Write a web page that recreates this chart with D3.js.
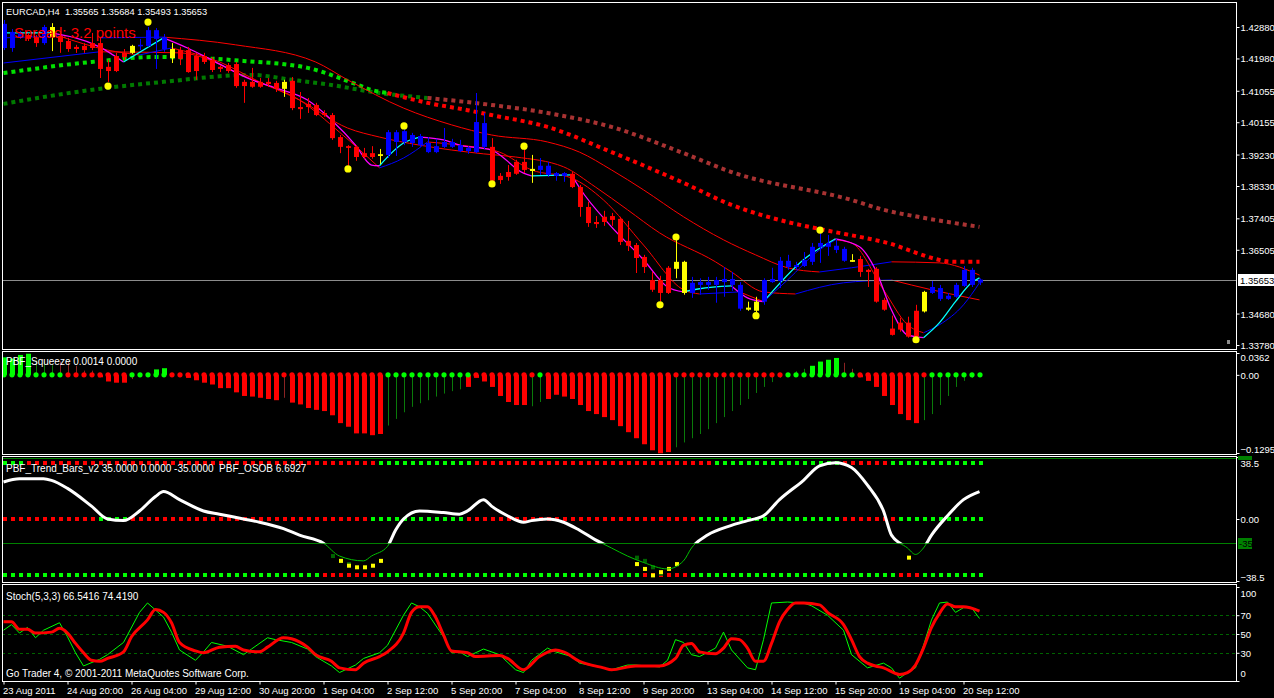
<!DOCTYPE html>
<html>
<head>
<meta charset="utf-8">
<script src="https://cdn.jsdelivr.net/npm/d3@7"></script>
<style>
  body { margin: 0; background: #000; }
  svg { display: block; }
  text { font-family: "Liberation Sans", Arial, sans-serif; }
</style>
</head>
<body>
<svg id="chart" width="1274" height="698"></svg>
<script>
// ---- candles (EURCAD H4) ----
const opens = [1.4228,1.4228,1.4259,1.4265,1.4259,1.4242,1.4288,1.4262,1.4248,1.4231,1.4234,1.4242,1.4242,1.4174,1.4205,1.4214,1.4234,1.4234,1.4234,1.4254,
  1.4225,1.4225,1.4222,1.4222,1.4205,1.4205,1.4194,1.4174,1.4179,1.4182,1.4131,1.4131,1.4131,1.4131,1.4128,1.4131,1.4134,1.4059,1.4068,1.4065,
  1.4042,1.4036,1.3973,1.3947,1.3945,1.3927,1.3927,1.3924,1.3922,1.3959,1.3959,1.3956,1.3950,1.3930,1.3930,1.3945,1.3945,1.3933,1.3933,1.3930,
  1.3945,1.3945,1.3862,1.3873,1.3902,1.3902,1.3882,1.3879,1.3865,1.3862,1.3862,1.3868,1.3830,1.3773,1.3730,1.3745,1.3747,1.3739,1.3676,1.3664,
  1.3630,1.3564,1.3564,1.3599,1.3616,1.3616,1.3527,1.3550,1.3550,1.3550,1.3558,1.3550,1.3482,1.3485,1.3502,1.3502,1.3558,1.3561,1.3601,1.3601,
  1.3604,1.3616,1.3659,1.3659,1.3650,1.3619,1.3621,1.3624,1.3593,1.3596,1.3507,1.3425,1.3442,1.3442,1.3476,1.3474,1.3527,1.3510,1.3510,1.3516,
  1.3547,1.3550,1.35565];
const highs = [1.4308,1.4282,1.4277,1.4271,1.4265,1.4294,1.4299,1.4271,1.4257,1.4237,1.4242,1.4271,1.4257,1.4194,1.4214,1.4225,1.4237,1.4254,1.4288,1.4285,
  1.4268,1.4242,1.4231,1.4231,1.4214,1.4214,1.4202,1.4179,1.4185,1.4188,1.4137,1.4171,1.4142,1.4142,1.4134,1.4137,1.4145,1.4102,1.4085,1.4071,
  1.4050,1.4042,1.3979,1.3950,1.3950,1.3942,1.3947,1.3939,1.3993,1.3993,1.3999,1.3985,1.3982,1.3973,1.3968,1.3999,1.3968,1.3965,1.3947,1.4099,
  1.4042,1.3970,1.3870,1.3893,1.3908,1.3942,1.3922,1.3913,1.3902,1.3873,1.3873,1.3873,1.3836,1.3788,1.3747,1.3762,1.3756,1.3745,1.3733,1.3670,
  1.3636,1.3587,1.3576,1.3604,1.3679,1.3619,1.3573,1.3569,1.3573,1.3573,1.3601,1.3587,1.3558,1.3502,1.3516,1.3569,1.3599,1.3630,1.3636,1.3616,
  1.3644,1.3670,1.3702,1.3693,1.3682,1.3659,1.3638,1.3633,1.3596,1.3601,1.3513,1.3462,1.3456,1.3459,1.3493,1.3533,1.3561,1.3550,1.3527,1.3556,
  1.3604,1.3599,1.35684];
const lows = [1.4222,1.4217,1.4254,1.4248,1.4231,1.4237,1.4219,1.4214,1.4217,1.4214,1.4214,1.4222,1.4142,1.4131,1.4159,1.4194,1.4211,1.4222,1.4231,1.4168,
  1.4217,1.4185,1.4179,1.4157,1.4137,1.4182,1.4159,1.4159,1.4157,1.4114,1.4071,1.4114,1.4114,1.4117,1.4102,1.4088,1.4050,1.4025,1.4042,1.4033,
  1.4031,1.3965,1.3927,1.3891,1.3905,1.3911,1.3911,1.3896,1.3913,1.3919,1.3950,1.3945,1.3945,1.3927,1.3927,1.3942,1.3942,1.3930,1.3925,1.3927,
  1.3939,1.3845,1.3839,1.3848,1.3865,1.3870,1.3842,1.3865,1.3859,1.3848,1.3845,1.3827,1.3745,1.3716,1.3713,1.3719,1.3719,1.3664,1.3647,1.3584,
  1.3584,1.3530,1.3502,1.3524,1.3569,1.3522,1.3513,1.3522,1.3536,1.3499,1.3516,1.3533,1.3476,1.3476,1.3471,1.3493,1.3556,1.3541,1.3593,1.3593,
  1.3601,1.3607,1.3613,1.3633,1.3641,1.3616,1.3616,1.3573,1.3544,1.3499,1.3476,1.3405,1.3416,1.3399,1.3399,1.3471,1.3524,1.3504,1.3507,1.3513,
  1.3544,1.3544,1.35493];
const closes = [1.4297,1.4274,1.4271,1.4254,1.4242,1.4288,1.4259,1.4245,1.4225,1.4225,1.4222,1.4228,1.4168,1.4162,1.4162,1.4202,1.4214,1.4237,1.4279,1.4279,
  1.4259,1.4199,1.4197,1.4159,1.4162,1.4188,1.4165,1.4168,1.4162,1.4119,1.4119,1.4117,1.4117,1.4125,1.4111,1.4111,1.4056,1.4053,1.4059,1.4036,
  1.4036,1.3970,1.3945,1.3942,1.3916,1.3916,1.3916,1.3919,1.3987,1.3987,1.3990,1.3979,1.3976,1.3956,1.3947,1.3959,1.3959,1.3950,1.3942,1.4016,
  1.4013,1.3848,1.3850,1.3859,1.3868,1.3879,1.3876,1.3891,1.3891,1.3870,1.3870,1.3830,1.3773,1.3727,1.3724,1.3730,1.3736,1.3673,1.3662,1.3627,
  1.3601,1.3536,1.3527,1.3527,1.3596,1.3527,1.3556,1.3558,1.3558,1.3564,1.3567,1.3567,1.3550,1.3479,1.3476,1.3564,1.3567,1.3619,1.3619,1.3607,
  1.3621,1.3659,1.3670,1.3670,1.3662,1.3653,1.3616,1.3587,1.3587,1.3502,1.3479,1.3407,1.3422,1.3402,1.3402,1.3530,1.3544,1.3541,1.3519,1.3550,
  1.3593,1.3593,1.35653];
// b = blue trend bar, r = red, y = yellow
const barColors = "bbbrrbyrrr" + "rrrrrrybbb" + "byrrrrrrrr" + "rrrrryrrrr" + "rrrrrrrybb" +
  "bbbbbbbbbb" + "brrrrrybbb" + "brrrrrrrrr" + "rrrryybbbb" + "bbbyybbbbb" +
  "bbbbbbyrrr" + "rrrrrybbbb" + "bbb";

const fractalIdx = [13, 18, 43, 50, 61, 65, 82, 84, 94, 102, 114];
const fractalPrice = [1.4119, 1.4302, 1.3882, 1.4005, 1.3839, 1.3947, 1.3493, 1.3687, 1.3462, 1.3707, 1.3393];

// moving averages, read at sample bars
const fastIdx = [0,6,12,15,20,23,26,31,34,38,41,44,46,47,50,52,55,57,61,65,66,71,72,76,80,83,85,87,91,93,95,100,104,107,109,111,113,115,117,119,121,122];
const fastMA = [1.4271,1.4271,1.4231,1.4188,1.4257,1.4228,1.4194,1.4137,1.4114,1.4079,1.4022,1.3950,1.3893,1.3891,1.3956,1.3973,1.3965,1.3950,1.3936,1.3870,1.3862,1.3865,1.3828,1.3716,1.3622,1.3544,1.3530,1.3539,1.3547,1.3513,1.3502,1.3622,1.3682,1.3659,1.3593,1.3478,1.3407,1.3399,1.3442,1.3502,1.3556,1.3570];
const midIdx = [0,7,13,17,21,27,32,37,42,47,50,53,57,62,66,71,75,80,85,87,92,95,98,102,104,106,110,113,115,117,120,122];
const midMA = [1.4257,1.4262,1.4222,1.4208,1.4228,1.4188,1.4131,1.4079,1.3987,1.3885,1.3913,1.3959,1.3950,1.3930,1.3879,1.3856,1.3793,1.3664,1.3536,1.3524,1.3530,1.3502,1.3564,1.3650,1.3679,1.3670,1.3536,1.3436,1.3413,1.3436,1.3493,1.3556];
const slow1Idx = [12,20,29,39,43,50,56,61,68,72,76,80,85,90,94,98,102,106,111,117,122];
const slow1 = [1.4257,1.4259,1.4237,1.4188,1.4137,1.4056,1.4008,1.3979,1.3959,1.3930,1.3879,1.3822,1.3745,1.3679,1.3636,1.3599,1.3587,1.3599,1.3616,1.3613,1.3578];
const slow2Idx = [0,12,22,31,37,43,47,52,60,64,70,74,78,82,89,91,95,99,105,111,116,122];
const slow2 = [1.4185,1.4217,1.4214,1.4139,1.4079,1.3999,1.3973,1.3950,1.3925,1.3916,1.3888,1.3830,1.3765,1.3699,1.3616,1.3587,1.3530,1.3524,1.3556,1.3564,1.3536,1.3507];
// dotted bands: green part up to the switch bar, red part after
const dotsAIdx = [0,11,19,30,38,44,46,48,53,58,61,68,76,85,91,98,102,110,119,122];
const dotsA = [1.4156,1.4188,1.4202,1.4191,1.4171,1.4125,1.4108,1.4099,1.4071,1.4050,1.4036,1.4002,1.3930,1.3842,1.3779,1.3730,1.3710,1.3673,1.3616,1.3616];
const dotsASwitch = 47;
const dotsBIdx = [0,10,20,31,36,41,47,53,61,68,76,85,91,106,110,115,122];
const dotsB = [1.4068,1.4105,1.4131,1.4151,1.4137,1.4122,1.4099,1.4085,1.4065,1.4042,1.4002,1.3927,1.3873,1.3793,1.3765,1.3742,1.3716];
const dotsBSwitch = 48;

const priceTicks = [1.42880, 1.41980, 1.41055, 1.40155, 1.39230, 1.38330, 1.37405, 1.36505, 1.34680, 1.33780];
const lastPrice = 1.35653;

// ---- PBF_Squeeze ----
const squeeze = [0.029,0.027,0.033,0.035,0.024,0.022,0.016,0.022,0.022,0.015,0.007,0.007,-0.004,-0.011,-0.013,-0.013,-0.007,-0.002,0.003,0.009,
  0.011,0.000,-0.002,-0.005,-0.009,-0.013,-0.016,-0.022,-0.022,-0.029,-0.035,-0.036,-0.038,-0.040,-0.042,-0.038,-0.046,-0.049,-0.055,-0.058,
  -0.060,-0.067,-0.080,-0.086,-0.097,-0.097,-0.100,-0.098,-0.084,-0.073,-0.062,-0.053,-0.047,-0.042,-0.036,-0.031,-0.027,-0.024,-0.020,-0.005,
  -0.011,-0.020,-0.035,-0.045,-0.050,-0.050,-0.052,-0.045,-0.040,-0.033,-0.036,-0.040,-0.050,-0.060,-0.065,-0.070,-0.075,-0.085,-0.095,-0.105,
  -0.115,-0.125,-0.130,-0.128,-0.120,-0.112,-0.105,-0.098,-0.090,-0.080,-0.070,-0.060,-0.050,-0.040,-0.030,-0.020,-0.012,-0.005,0.002,0.006,
  0.010,0.015,0.022,0.025,0.028,0.020,0.010,-0.004,-0.010,-0.020,-0.035,-0.050,-0.065,-0.075,-0.080,-0.075,-0.065,-0.050,-0.035,-0.020,
  -0.010,-0.005,-0.002];
// L lime, g dark green thin, R red, m maroon thin, - none
const squeezeColors = "LLLLgggmmm" + "mmRRRRm-mL" + "L--RRRRRRR" + "RRRRRmRRRR" + "RRRRRRRRgg" +
  "ggggggggRR" + "RRRRRRggRR" + "RRRRRRRRRR" + "RRRRgggggg" + "gggggggggg" +
  "gLLLLmmRRR" + "RRRRRggggg" + "ggg";
// runs of [colour, bars] for the zero-line dots
const squeezeDotRuns = [["g",8],["r",8],["g",5],["r",27],["g",11],["r",8],["g",1],["r",30],["g",9],["r",9],["g",7]];

// ---- PBF_Trend_Bars_v2 / PBF_OSOB ----
const oscIdx = [0,2,5,6,8,11,13,15,17,19,20,22,25,27,30,32,35,37,40,42,45,46,48,49,50,52,55,57,58,60,61,63,65,66,68,70,72,74,76,78,80,83,85,86,88,91,93,95,97,100,102,104,106,108,110,111,113,114,115,116,118,120,122];
const osob = [23,25,25,24,19,8,0,-1,5,14,17,12,5,3,0,-2,-6,-10,-15,-23,-26,-23,-17,-7,0,5,4,3,5,12,8,2,-2,-1,0,-2,-7,-13,-18,-23,-27,-31,-26,-18,-10,-4,-1,2,12,24,33,35,32,21,5,-10,-18,-22,-18,-10,2,12,17];
const osLevel = -15;
// runs of [colour, bars] for the 35 / 0 / -35 rows
const rowTopRuns = [["g",3],["r",44],["g",12],["r",30],["g",16],["r",6],["g",12]];
const rowMidRuns = [["r",12],["g",4],["r",30],["g",12],["r",29],["g",18],["r",7],["g",11]];
const rowBotRuns = [["g",40],["r",7],["g",33],["r",6],["g",26],["r",3],["g",8]];
const sigYellowIdx = [42, 43, 44, 45, 46, 47, 79, 80, 81, 82, 83, 84, 113];
const sigYellow = [-26, -29, -30, -30, -29, -26, -28, -31, -35, -33, -31, -28, -24];
const sigGreenIdx = [41, 42, 43, 79, 80, 81, 82];
const sigGreen = [-23, -26, -28, -24, -26, -30, -34];

// ---- Stochastic ----
const stochKIdx = [0,1,2,3,4,5,7,8,9,10,12,13,15,17,18,20,21,22,24,25,26,28,30,31,33,34,36,38,39,41,42,44,45,47,48,50,51,52,53,55,56,57,58,60,62,64,65,66,68,69,71,72,75,76,78,79,82,83,84,85,86,87,89,90,91,93,94,95,96,98,100,101,103,105,106,108,110,111,112,113,114,115,116,117,118,119,120,121,122];
const stochK = [54,60,51,57,46,54,62,47,30,16,23,28,41,73,83,68,52,33,22,31,41,37,28,34,46,44,41,34,26,16,9,17,24,30,38,70,83,79,72,47,30,31,26,34,28,12,9,22,35,31,26,19,14,12,17,17,15,22,44,41,28,26,35,52,33,14,12,44,83,84,83,80,70,54,28,14,19,14,3,9,14,38,65,83,84,73,78,78,66.5];
const stochDIdx = [0,1,2,3,4,6,7,8,9,10,11,12,13,15,16,18,19,20,21,22,24,25,27,29,30,32,33,35,36,38,39,41,42,44,45,47,48,50,51,52,53,54,55,56,58,59,62,63,65,67,69,70,72,75,76,79,81,82,84,85,86,87,89,90,91,92,93,94,95,96,97,98,99,100,102,103,105,106,107,108,109,110,112,113,114,115,116,117,118,119,120,122];
const stochD = [63,63,55,55,51,52,56,51,40,30,22,21,24,31,47,65,76,73,62,41,32,30,36,37,33,31,36,46,45,36,28,21,14,12,19,26,31,51,73,79,79,68,49,32,30,26,27,24,12,26,33,31,21,14,12,16,16,16,24,38,40,31,29,35,45,44,35,21,21,40,63,76,83,83,81,73,60,44,26,19,16,14,7,9,17,35,57,72,82,79,79,74.4];
const stochLevels = [70, 50, 30];

const timeLabels = ["23 Aug 2011","24 Aug 20:00","26 Aug 04:00","29 Aug 12:00","30 Aug 20:00","1 Sep 04:00","2 Sep 12:00","5 Sep 20:00",
  "7 Sep 04:00","8 Sep 12:00","9 Sep 20:00","13 Sep 04:00","14 Sep 12:00","15 Sep 20:00","19 Sep 04:00","20 Sep 12:00"];

// ---- layout ----
const svg = d3.select("#chart");
const left = 2, right = 1236;
const panels = {
  main: [2, 349],
  sq: [351, 454],
  tr: [456, 582],
  st: [584, 681]
};
const colBlue = "#0000ff", colRed = "#ff0000", colYellow = "#ffff00";

svg.append("rect").attr("width", 1274).attr("height", 698).attr("fill", "#000");

const x = d3.scaleLinear().domain([0, 1]).range([3.5, 11.5]);
const yMain = d3.scaleLinear().domain([1.33780, 1.42880]).range([345, 27]);
const ySq = d3.scaleLinear().domain([-0.1295, 0.0362]).range([453, 353]);
const yTr = d3.scaleLinear().domain([-38.5, 38.5]).range([581, 457]);
const ySt = d3.scaleLinear().domain([0, 100]).range([681, 587]);

const expandRuns = runs => runs.flatMap(([c, n]) => Array(n).fill(c));
const squeezeDots = expandRuns(squeezeDotRuns);

function clipFor(id, top, bottom) {
  svg.append("clipPath").attr("id", id).append("rect")
    .attr("x", left + 1).attr("y", top + 1).attr("width", right - left - 1).attr("height", bottom - top - 1);
  return svg.append("g").attr("clip-path", `url(#${id})`);
}

const pairs = (idx, vals) => idx.map((d, k) => [d, vals[k]]);

// line split into rising / falling runs
function slopeRuns(g, idx, vals, yScale, upCol, downCol, width) {
  const runs = [];
  let cur = null;
  for (let k = 1; k < idx.length; k++) {
    const up = vals[k] >= vals[k - 1];
    if (!cur || cur.up !== up) {
      cur = { up, pts: [[idx[k - 1], vals[k - 1]]] };
      runs.push(cur);
    }
    cur.pts.push([idx[k], vals[k]]);
  }
  const line = d3.line().x(d => x(d[0])).y(d => yScale(d[1])).curve(d3.curveMonotoneX);
  g.append("g").selectAll("path").data(runs).join("path")
    .attr("d", r => line(r.pts))
    .attr("fill", "none")
    .attr("stroke", r => r.up ? upCol : downCol)
    .attr("stroke-width", width);
}

function dottedBand(g, idx, vals, sw, colA, colB) {
  const line = d3.line().x(d => x(d[0])).y(d => yMain(d[1])).curve(d3.curveMonotoneX);
  const pts = pairs(idx, vals);
  const k = idx.findIndex(d => d >= sw);
  [[pts.slice(0, k + 1), colA], [pts.slice(k), colB]].forEach(([p, c]) => {
    g.append("path").attr("d", line(p)).attr("fill", "none")
      .attr("stroke", c).attr("stroke-width", 4).attr("stroke-dasharray", "4 4");
  });
}

// ================= main panel =================
const gMain = clipFor("clipMain", ...panels.main);

dottedBand(gMain, dotsBIdx, dotsB, dotsBSwitch, "#007a00", "#a83232");
dottedBand(gMain, dotsAIdx, dotsA, dotsASwitch, "#00e000", "#ff0000");

slopeRuns(gMain, slow2Idx, slow2, yMain, colBlue, colRed, 1);
slopeRuns(gMain, slow1Idx, slow1, yMain, colBlue, colRed, 1);

// current price line
gMain.append("line").attr("x1", left).attr("x2", right)
  .attr("y1", Math.round(yMain(lastPrice)) + 0.5).attr("y2", Math.round(yMain(lastPrice)) + 0.5)
  .attr("stroke", "#8c8c8c").attr("stroke-width", 1);

slopeRuns(gMain, midIdx, midMA, yMain, colBlue, colRed, 1);
slopeRuns(gMain, fastIdx, fastMA, yMain, "#00ffff", "#ff00ff", 1.3);

const barCol = c => c === "b" ? colBlue : c === "r" ? colRed : colYellow;
const candles = gMain.append("g").selectAll("g").data(d3.range(opens.length)).join("g");
candles.append("line")
  .attr("x1", i => Math.round(x(i)) + 0.5).attr("x2", i => Math.round(x(i)) + 0.5)
  .attr("y1", i => yMain(highs[i])).attr("y2", i => yMain(lows[i]))
  .attr("stroke", i => barCol(barColors[i])).attr("stroke-width", 1);
candles.append("rect")
  .attr("x", i => Math.round(x(i)) - 2)
  .attr("y", i => yMain(Math.max(opens[i], closes[i])))
  .attr("width", 5)
  .attr("height", i => Math.max(1.5, Math.abs(yMain(opens[i]) - yMain(closes[i]))))
  .attr("fill", i => barCol(barColors[i]));

gMain.append("g").selectAll("circle").data(fractalIdx).join("circle")
  .attr("cx", i => x(i) + 0.5).attr("cy", (i, k) => yMain(fractalPrice[k]))
  .attr("r", 3.6).attr("fill", colYellow);

svg.append("text").attr("x", 6).attr("y", 15).attr("fill", "#fff").attr("font-size", 9.3)
  .attr("xml:space", "preserve")
  .text("EURCAD,H4  1.35565 1.35684 1.35493 1.35653");
svg.append("text").attr("x", 14).attr("y", 38).attr("fill", "#ff0000").attr("font-size", 15)
  .text("Spread: 3.2 points");
svg.append("rect").attr("x", 1227).attr("y", 340).attr("width", 3).attr("height", 4).attr("fill", "#8c8c8c");

// ================= squeeze =================
const gSq = clipFor("clipSq", ...panels.sq);
const sqFill = { L: "#00ff00", g: "#0a7a0a", R: "#ff0000", m: "#8b2323" };
const sqBars = d3.range(squeeze.length).filter(i => squeezeColors[i] !== "-");
gSq.append("g").selectAll("rect").data(sqBars).join("rect")
  .attr("x", i => "LR".includes(squeezeColors[i]) ? Math.round(x(i)) - 2 : Math.round(x(i)))
  .attr("width", i => "LR".includes(squeezeColors[i]) ? 5 : 1)
  .attr("y", i => Math.min(ySq(0), ySq(squeeze[i])))
  .attr("height", i => Math.abs(ySq(squeeze[i]) - ySq(0)))
  .attr("fill", i => sqFill[squeezeColors[i]]);
gSq.append("g").selectAll("circle").data(d3.range(squeeze.length)).join("circle")
  .attr("cx", i => x(i) + 0.5).attr("cy", ySq(0)).attr("r", 2.6)
  .attr("fill", i => squeezeDots[i] === "g" ? "#00ff00" : "#ff0000");
svg.append("text").attr("x", 6).attr("y", 365).attr("fill", "#fff").attr("font-size", 10)
  .text("PBF_Squeeze 0.0014 0.0000");

// ================= trend bars =================
const gTr = clipFor("clipTr", ...panels.tr);
gTr.append("line").attr("x1", left).attr("x2", right).attr("y1", 458.5).attr("y2", 458.5)
  .attr("stroke", "#008000");
gTr.append("line").attr("x1", left).attr("x2", right)
  .attr("y1", Math.round(yTr(osLevel)) + 0.5).attr("y2", Math.round(yTr(osLevel)) + 0.5)
  .attr("stroke", "#008000");
[[35, rowTopRuns], [0, rowMidRuns], [-35, rowBotRuns]].forEach(([lvl, runs]) => {
  const row = expandRuns(runs);
  gTr.append("g").selectAll("rect").data(d3.range(row.length)).join("rect")
    .attr("x", i => Math.round(x(i)) - 1).attr("y", Math.round(yTr(lvl)) - 2)
    .attr("width", 4).attr("height", 4)
    .attr("fill", i => row[i] === "g" ? "#00ff00" : "#ff0000");
});
gTr.append("g").selectAll("rect").data(sigGreenIdx).join("rect")
  .attr("x", i => Math.round(x(i)) - 1).attr("y", (i, k) => yTr(sigGreen[k]) - 2)
  .attr("width", 4).attr("height", 4).attr("fill", "#006400");
gTr.append("g").selectAll("rect").data(sigYellowIdx).join("rect")
  .attr("x", i => Math.round(x(i)) - 1).attr("y", (i, k) => yTr(sigYellow[k]) - 2)
  .attr("width", 4).attr("height", 4).attr("fill", colYellow);

const oscLine = d3.line().x(d => x(d[0])).y(d => yTr(d[1])).curve(d3.curveMonotoneX);
const cutY = yTr(osLevel);
svg.append("clipPath").attr("id", "clipAbove").append("rect")
  .attr("x", left).attr("y", panels.tr[0]).attr("width", right - left).attr("height", cutY - panels.tr[0]);
svg.append("clipPath").attr("id", "clipBelow").append("rect")
  .attr("x", left).attr("y", cutY).attr("width", right - left).attr("height", panels.tr[1] - cutY);
gTr.append("path").attr("d", oscLine(pairs(oscIdx, osob))).attr("fill", "none")
  .attr("stroke", "#00c000").attr("stroke-width", 1).attr("clip-path", "url(#clipBelow)");
gTr.append("path").attr("d", oscLine(pairs(oscIdx, osob))).attr("fill", "none")
  .attr("stroke", "#fff").attr("stroke-width", 3).attr("clip-path", "url(#clipAbove)");
svg.append("text").attr("x", 6).attr("y", 472).attr("fill", "#fff").attr("font-size", 10)
  .attr("xml:space", "preserve")
  .text("PBF_Trend_Bars_v2 35.0000 0.0000 -35.0000  PBF_OSOB 6.6927");

// ================= stochastic =================
const gSt = clipFor("clipSt", ...panels.st);
gSt.append("g").selectAll("line").data(stochLevels).join("line")
  .attr("x1", left).attr("x2", right)
  .attr("y1", d => Math.round(ySt(d)) + 0.5).attr("y2", d => Math.round(ySt(d)) + 0.5)
  .attr("stroke", "#006400").attr("stroke-dasharray", "3 3");
const stLine = d3.line().x(d => x(d[0])).y(d => ySt(d[1]));
gSt.append("path").attr("d", stLine(pairs(stochKIdx, stochK))).attr("fill", "none")
  .attr("stroke", "#00ff00").attr("stroke-width", 1);
gSt.append("path").attr("d", stLine.curve(d3.curveMonotoneX)(pairs(stochDIdx, stochD))).attr("fill", "none")
  .attr("stroke", "#ff0000").attr("stroke-width", 3);
svg.append("text").attr("x", 6).attr("y", 600).attr("fill", "#fff").attr("font-size", 10)
  .text("Stoch(5,3,3) 66.5416 74.4190");
svg.append("text").attr("x", 6).attr("y", 677).attr("fill", "#fff").attr("font-size", 10)
  .text("Go Trader 4, © 2001-2011 MetaQuotes Software Corp.");

// ================= frames & axes =================
Object.values(panels).forEach(([t, b]) => {
  svg.append("rect").attr("x", left + 0.5).attr("y", t + 0.5).attr("width", right - left)
    .attr("height", b - t).attr("fill", "none").attr("stroke", "#fff").attr("stroke-width", 1);
});

function rightAxis(scale, ticks, fmt, shifts) {
  const g = svg.append("g").attr("transform", `translate(${right + 0.5},0)`)
    .call(d3.axisRight(scale).tickValues(ticks).tickSize(3).tickPadding(1).tickFormat(fmt));
  g.select(".domain").remove();
  g.selectAll("line").attr("stroke", "#fff");
  g.selectAll("text").attr("fill", "#fff").attr("font-size", 9.5)
    .attr("font-family", "Liberation Sans, Arial, sans-serif")
    .attr("dy", (d, k) => (shifts && shifts[k] ? shifts[k] : 3.5) + "px");
  return g;
}
rightAxis(yMain, priceTicks, d3.format(".5f"));
rightAxis(ySq, [0.0362, 0, -0.1295], d => d === 0 ? "0.00" : d3.format(".4f")(d), [7, 3.5, -1]);
rightAxis(yTr, [38.5, 0, -38.5], d => d === 0 ? "0.00" : d3.format(".1f")(d), [9, 3.5, -1]);
rightAxis(ySt, [100, 70, 50, 30, 0], d3.format("d"), [9, 3.5, 3.5, 3.5, -5]);

// current price box
const lpY = Math.round(yMain(lastPrice));
svg.append("rect").attr("x", right + 2).attr("y", lpY - 6).attr("width", 37).attr("height", 12).attr("fill", "#fff");
svg.append("text").attr("x", right + 4).attr("y", lpY + 3.5).attr("fill", "#000").attr("font-size", 9.5)
  .text(d3.format(".5f")(lastPrice));

// OS level tag
const osY = Math.round(yTr(osLevel));
svg.append("rect").attr("x", right + 2).attr("y", osY - 5).attr("width", 14).attr("height", 11).attr("fill", "#008000");
svg.append("text").attr("x", right + 3).attr("y", osY + 4).attr("fill", "#000").attr("font-size", 9.5)
  .text("-35");
svg.append("rect").attr("x", right + 2).attr("y", 456).attr("width", 14).attr("height", 4).attr("fill", "#008000");

// time axis
const tAxis = svg.append("g").attr("transform", `translate(0,${panels.st[1] + 0.5})`)
  .call(d3.axisBottom(x).tickValues(timeLabels.map((_, k) => k * 8)).tickSize(3).tickFormat(""));
tAxis.select(".domain").remove();
tAxis.selectAll("line").attr("stroke", "#fff");
svg.append("g").selectAll("text").data(timeLabels).join("text")
  .attr("x", (d, k) => x(k * 8) - 0.5).attr("y", 694)
  .attr("fill", "#fff").attr("font-size", 9.5).text(d => d);
</script>
</body>
</html>
